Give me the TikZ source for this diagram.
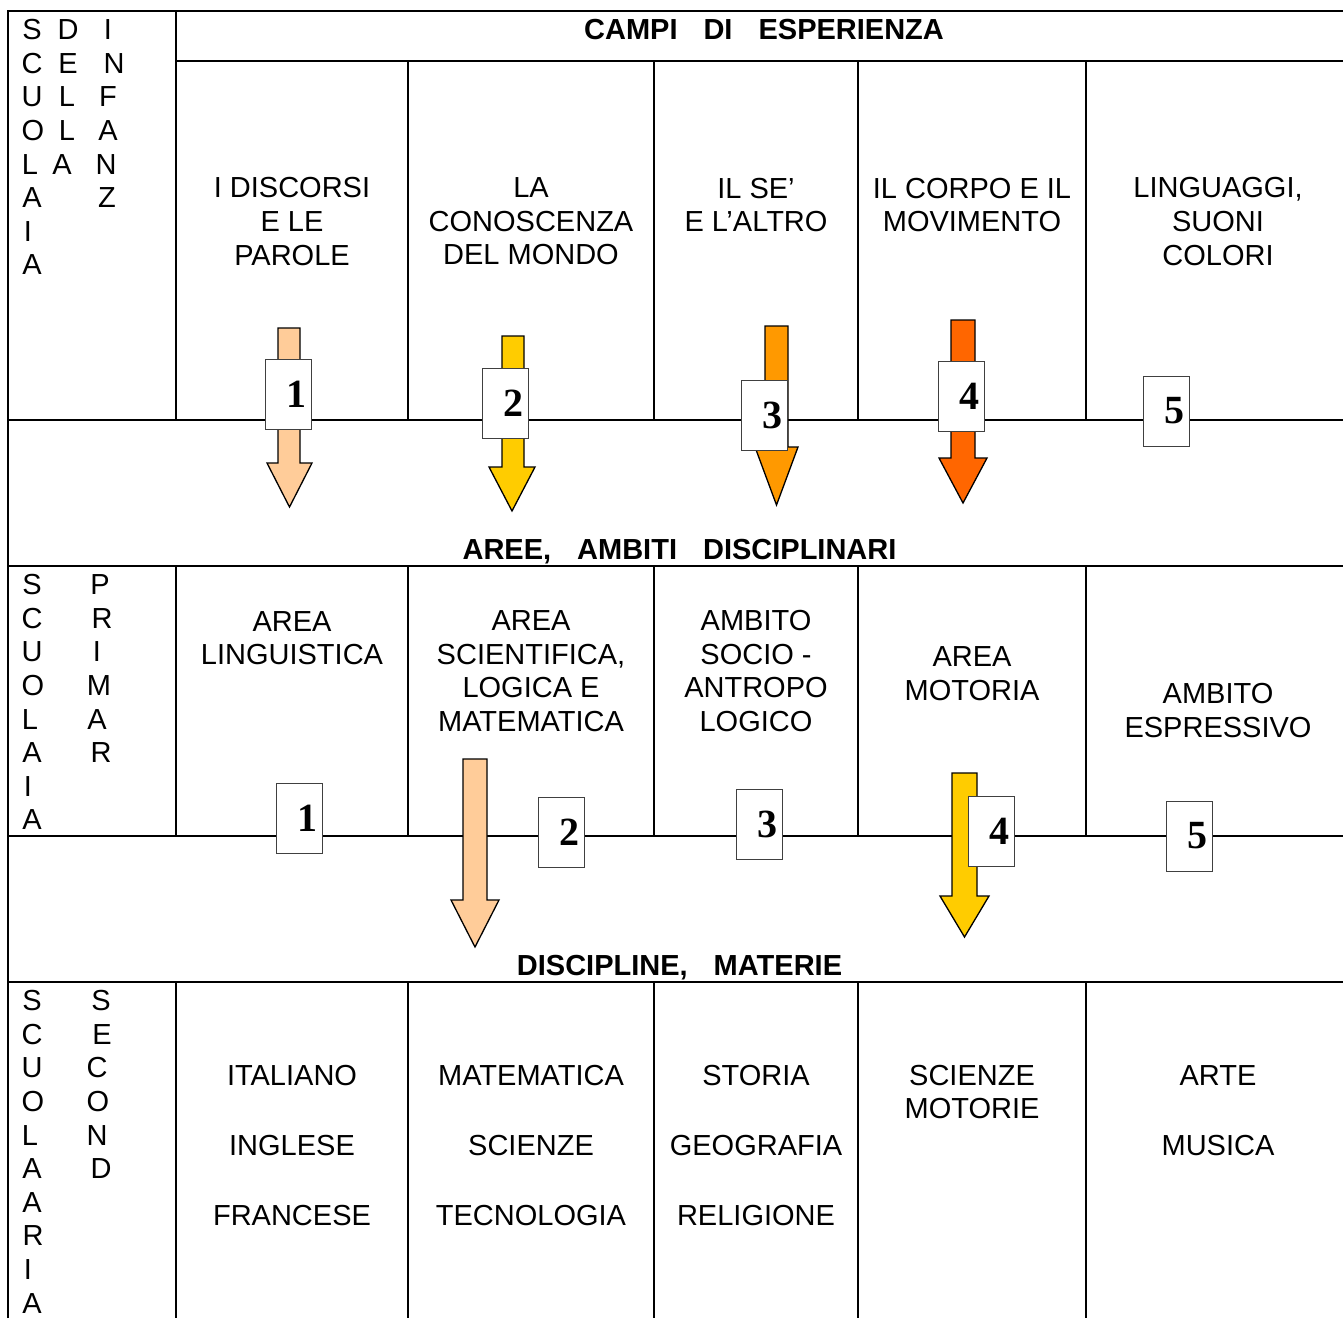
\documentclass[tikz,border=0pt]{standalone}
\usepackage{fontspec}
\setmainfont{Liberation Sans}
\newfontfamily\numfont{Liberation Serif}
\definecolor{peach}{HTML}{FFCC99}
\definecolor{gold}{HTML}{FFCC00}
\definecolor{orangeA}{HTML}{FF9900}
\definecolor{orangeB}{HTML}{FF6600}
\tikzset{
  grid/.style={line width=2pt, line join=miter},
  celltext/.style={font=\fontsize{29}{33.6}\selectfont, align=center, inner sep=0},
  headtext/.style={font=\fontsize{29}{33}\selectfont\bfseries, inner sep=0, anchor=base},
  linetext/.style={font=\fontsize{29}{33.6}\selectfont, inner sep=0, anchor=base},
  letter/.style={font=\fontsize{29}{33.6}\selectfont, inner sep=0, anchor=base},
  numbox/.style={draw=black!75, line width=0.9pt, fill=white, minimum width=46pt, minimum height=70pt, inner sep=0, font=\numfont\bfseries\fontsize{40}{40}\selectfont},
  blockarrow/.style={draw=black, line width=1.3pt, line join=miter},
}
\newcommand\blkarrow[8]{\draw[blockarrow, fill=#1] (#2,#4) -- (#3,#4) -- (#3,#7) -- (#6,#7) -- ({(#5+#6)/2},#8) -- (#5,#7) -- (#2,#7) -- cycle;}
\begin{document}
\begin{tikzpicture}[x=1pt,y=-1pt]
\useasboundingbox (0,0) rectangle (1343,1318);
% grid
\draw[grid] (8,1318) -- (8,11) -- (1343,11);
\draw[grid] (176,11) -- (176,420);
\draw[grid] (176,61) -- (1343,61);
\foreach \x in {408,654,858,1086} \draw[grid] (\x,61) -- (\x,420);
\draw[grid] (8,420) -- (1343,420);
\draw[grid] (8,566) -- (1343,566);
\foreach \x in {176,408,654,858,1086} \draw[grid] (\x,566) -- (\x,836);
\draw[grid] (8,836) -- (1343,836);
\draw[grid] (8,982) -- (1343,982);
\foreach \x in {176,408,654,858,1086} \draw[grid] (\x,982) -- (\x,1318);
% headers
\node[headtext] (h1) at (764,39.4) {CAMPI\hspace{26pt}DI\hspace{26pt}ESPERIENZA};
\node[headtext] (h2) at (679.5,559.4) {AREE,\hspace{26pt}AMBITI\hspace{26pt}DISCIPLINARI};
\node[headtext] (h3) at (679.5,975.4) {DISCIPLINE,\hspace{26pt}MATERIE};
% left column letters
\foreach \c/\xx [count=\i] in {S/32,C/32,U/32,O/33,L/30,A/32,I/28,A/32}
  \node[letter] (sa\i) at (\xx,{39.4+(\i-1)*33.65}) {\c};
\foreach \c/\xx [count=\i] in {D/68,E/68,L/67,L/67,A/62}
  \node[letter] (sb\i) at (\xx,{39.4+(\i-1)*33.65}) {\c};
\foreach \c/\xx [count=\i] in {I/108,N/114,F/108,A/108,N/106,Z/107}
  \node[letter] (sc\i) at (\xx,{39.4+(\i-1)*33.65}) {\c};
\foreach \c/\xx [count=\i] in {S/32,C/32,U/32,O/33,L/30,A/32,I/28,A/32}
  \node[letter] (pa\i) at (\xx,{594.4+(\i-1)*33.65}) {\c};
\foreach \c/\xx [count=\i] in {P/100,R/102,I/97,M/99,A/97,R/101}
  \node[letter] (pb\i) at (\xx,{594.4+(\i-1)*33.65}) {\c};
\foreach \c/\xx [count=\i] in {S/32,C/32,U/32,O/33,L/30,A/32,A/32,R/33,I/28,A/32}
  \node[letter] (qa\i) at (\xx,{1010.4+(\i-1)*33.65}) {\c};
\foreach \c/\xx [count=\i] in {S/101,E/102,C/97,O/98,N/97,D/101}
  \node[letter] (qb\i) at (\xx,{1010.4+(\i-1)*33.65}) {\c};
% section 1 cells
\node[celltext] (t11) at (292,221.5) {I DISCORSI\\E LE\\PAROLE};
\node[celltext] (t12) at (531,221.5) {LA\\CONOSCENZA\\DEL MONDO};
\node[celltext] (t13) at (756,205) {IL SE’\\E L’ALTRO};
\node[celltext] (t14) at (972,205) {IL CORPO E IL\\MOVIMENTO};
\node[celltext] (t15) at (1218,221.5) {LINGUAGGI,\\SUONI\\COLORI};
% section 2 cells
\node[celltext] (t21) at (292,638) {AREA\\LINGUISTICA};
\node[celltext] (t22) at (531,671) {AREA\\SCIENTIFICA,\\LOGICA E\\MATEMATICA};
\node[celltext] (t23) at (756,671) {AMBITO\\SOCIO -\\ANTROPO\\LOGICO};
\node[celltext] (t24) at (972,673.5) {AREA\\MOTORIA};
\node[celltext] (t25) at (1218,710.5) {AMBITO\\ESPRESSIVO};
% section 3 cells
\node[linetext] (d11) at (292,1085.4) {ITALIANO};
\node[linetext] (d12) at (292,1155.4) {INGLESE};
\node[linetext] (d13) at (292,1225.4) {FRANCESE};
\node[linetext] (d21) at (531,1085.4) {MATEMATICA};
\node[linetext] (d22) at (531,1155.4) {SCIENZE};
\node[linetext] (d23) at (531,1225.4) {TECNOLOGIA};
\node[linetext] (d31) at (756,1085.4) {STORIA};
\node[linetext] (d32) at (756,1155.4) {GEOGRAFIA};
\node[linetext] (d33) at (756,1225.4) {RELIGIONE};
\node[linetext] (d41) at (972,1085.4) {SCIENZE};
\node[linetext] (d42) at (972,1118.4) {MOTORIE};
\node[linetext] (d51) at (1218,1085.4) {ARTE};
\node[linetext] (d52) at (1218,1155.4) {MUSICA};
% arrows
\blkarrow{peach}{278}{300}{328}{267}{312}{463}{507}
\blkarrow{gold}{502}{524}{336}{489}{535}{467}{511}
\blkarrow{orangeA}{765}{788}{326}{755}{798}{447}{505}
\blkarrow{orangeB}{951}{975}{320}{939}{987}{458}{503}
\blkarrow{peach}{463}{487}{759}{451}{499}{900}{947}
\blkarrow{gold}{952}{977}{773}{940}{989}{896}{937}
% number boxes
\node[numbox] (b1) at (288.5,394) {\hspace{16pt}1};
\node[numbox] (b2) at (505,403) {\hspace{16pt}2};
\node[numbox] (b3) at (764,415.5) {\hspace{16pt}3};
\node[numbox] (b4) at (961.5,396.5) {\hspace{16pt}4};
\node[numbox] (b5) at (1166,411) {\hspace{16pt}5};
\node[numbox] (c1) at (299,818) {\hspace{16pt}1};
\node[numbox] (c2) at (561,832) {\hspace{16pt}2};
\node[numbox] (c3) at (759,824.5) {\hspace{16pt}3};
\node[numbox] (c4) at (991,831.5) {\hspace{16pt}4};
\node[numbox] (c5) at (1189,836) {\hspace{16pt}5};
\end{tikzpicture}
\end{document}
